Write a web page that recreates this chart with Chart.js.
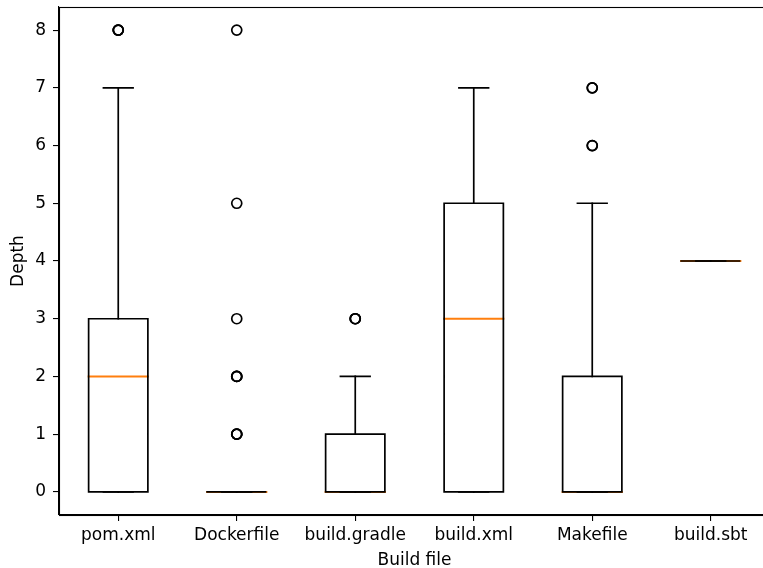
<!DOCTYPE html>
<html>
<head>
<meta charset="utf-8">
<script src="https://cdn.jsdelivr.net/npm/chart.js@4/dist/chart.umd.min.js"></script>
<style>
  html, body { margin: 0; padding: 0; background: #fff; overflow: hidden; }
  canvas { display: block; }
</style>
</head>
<body>
<canvas id="chart" width="771" height="568"></canvas>
<script>
// data
const categories = ['pom.xml', 'Dockerfile', 'build.gradle', 'build.xml', 'Makefile', 'build.sbt'];
const whiskerLow = [0, 0, 0, 0, 0, 4];
const q1 = [0, 0, 0, 0, 0, 4];
const medians = [2, 0, 0, 3, 0, 4];
const q3 = [3, 0, 1, 5, 2, 4];
const whiskerHigh = [7, 0, 2, 7, 5, 4];
// repeated values = overlapping fliers (drawn bolder)
const outliers = [
  [8, 8, 8],
  [1, 1, 1, 2, 2, 2, 3, 5, 8],
  [3, 3, 3],
  [],
  [6, 6, 7, 7],
  []
];
const yTicks = [0, 1, 2, 3, 4, 5, 6, 7, 8];

const BOX_HALF = 0.25;
const CAP_HALF = 0.125;
const LW = 1.7;
const FONT = { family: 'DejaVu Sans', size: 17 };

const boxPts = [], medPts = [], whiskPts = [], capPts = [], flierPts = [];
categories.forEach((c, i) => {
  const x = i + 1;
  boxPts.push(
    { x: x - BOX_HALF, y: q1[i] }, { x: x + BOX_HALF, y: q1[i] },
    { x: x + BOX_HALF, y: q3[i] }, { x: x - BOX_HALF, y: q3[i] },
    { x: x - BOX_HALF, y: q1[i] }, { x: x, y: null }
  );
  medPts.push({ x: x - BOX_HALF, y: medians[i] }, { x: x + BOX_HALF, y: medians[i] }, { x: x, y: null });
  whiskPts.push(
    { x: x, y: q3[i] }, { x: x, y: whiskerHigh[i] }, { x: x, y: null },
    { x: x, y: q1[i] }, { x: x, y: whiskerLow[i] }, { x: x, y: null }
  );
  capPts.push(
    { x: x - CAP_HALF, y: whiskerHigh[i] }, { x: x + CAP_HALF, y: whiskerHigh[i] }, { x: x, y: null },
    { x: x - CAP_HALF, y: whiskerLow[i] }, { x: x + CAP_HALF, y: whiskerLow[i] }, { x: x, y: null }
  );
  outliers[i].forEach(v => flierPts.push({ x: x, y: v }));
});

const lineSet = (data, color, width) => ({
  type: 'scatter', data, showLine: true, spanGaps: false,
  borderColor: color, borderWidth: width, pointRadius: 0, fill: false,
  borderCapStyle: 'square', borderJoinStyle: 'miter'
});

// top/right spines
const frame = {
  id: 'frame',
  afterDraw(chart) {
    const { ctx, chartArea: a } = chart;
    ctx.save();
    ctx.strokeStyle = '#000';
    ctx.lineWidth = 1.1;
    ctx.strokeRect(Math.round(a.left) + 0.5, Math.round(a.top) + 0.5,
      Math.round(a.right - a.left), Math.round(a.bottom - a.top));
    ctx.restore();
  }
};

// keep label overhang from shrinking the plot area
const noPad = s => { s.paddingTop = 0; s.paddingBottom = 0; s.paddingLeft = 0; s.paddingRight = 0; };

new Chart(document.getElementById('chart'), {
  type: 'scatter',
  data: {
    datasets: [
      lineSet(whiskPts, '#000', LW),
      lineSet(capPts, '#000', LW),
      lineSet(boxPts, '#000', LW),
      lineSet(medPts, '#ff7f0e', 2),
      {
        type: 'scatter', data: flierPts,
        pointStyle: 'circle', pointRadius: 5, borderWidth: LW,
        borderColor: '#000', backgroundColor: 'rgba(0,0,0,0)'
      }
    ]
  },
  options: {
    responsive: false,
    animation: false,
    devicePixelRatio: 1,
    layout: { autoPadding: false, padding: { top: 7, right: 1, bottom: 0, left: 0 } },
    plugins: { legend: { display: false }, tooltip: { enabled: false } },
    scales: {
      x: {
        type: 'linear', min: 0.5, max: 6.5,
        afterBuildTicks: s => { s.ticks = categories.map((c, i) => ({ value: i + 1 })); },
        afterFit: s => { s.height = 53; noPad(s); },
        ticks: { callback: v => categories[v - 1], color: '#000', font: FONT, padding: 4, maxRotation: 0, autoSkip: false },
        grid: { drawOnChartArea: false, drawTicks: true, tickLength: 6, color: '#000', lineWidth: 1.1 },
        border: { display: true, color: '#000', width: 1.1 },
        title: { display: true, text: 'Build file', color: '#000', font: FONT, padding: { top: 0, bottom: -3 } }
      },
      y: {
        type: 'linear', min: -0.4, max: 8.4,
        afterBuildTicks: s => { s.ticks = yTicks.map(v => ({ value: v })); },
        afterFit: s => { s.width = 59; noPad(s); },
        ticks: { color: '#000', font: FONT, padding: 7 },
        grid: { drawOnChartArea: false, drawTicks: true, tickLength: 6, color: '#000', lineWidth: 1.1 },
        border: { display: true, color: '#000', width: 1.1 },
        title: { display: true, text: 'Depth', color: '#000', font: FONT, padding: { top: 8, bottom: 0 } }
      }
    }
  },
  plugins: [frame]
});
</script>
</body>
</html>
